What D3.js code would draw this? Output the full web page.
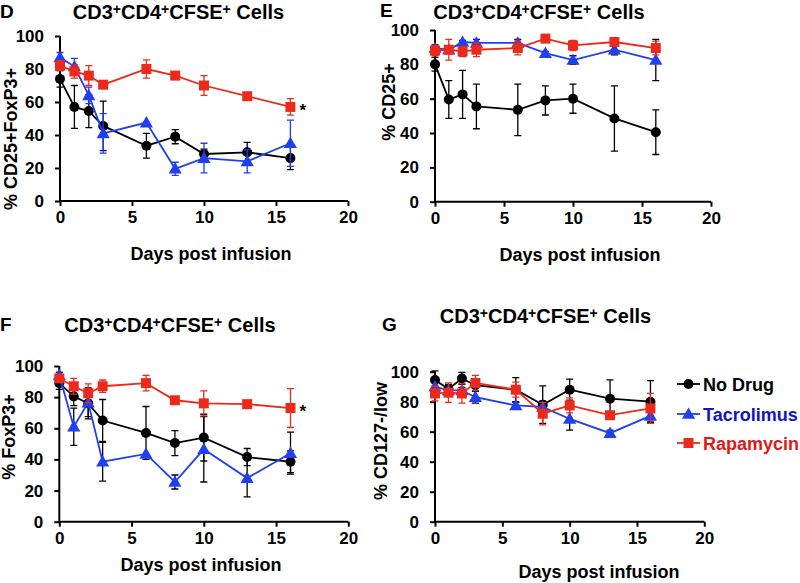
<!DOCTYPE html>
<html><head><meta charset="utf-8">
<script src="https://cdn.jsdelivr.net/npm/d3@7"></script>
<style>
html,body{margin:0;padding:0;background:#fff;}
svg{display:block;font-family:"Liberation Sans",Arial,Helvetica,sans-serif;font-weight:bold;}
</style></head>
<body><svg id="c" width="800" height="583"></svg>
<script>
// ---------- data ----------
const days = [0, 1, 2, 3, 6, 8, 10, 13, 16];
const xTicks = [0, 5, 10, 15, 20];
const yTicks = [0, 20, 40, 60, 80, 100];
const seriesNames = ["No Drug", "Tacrolimus", "Rapamycin"];

// Panel D: % CD25+FoxP3+
const dNoDrug    = [74, 57, 54.5, 45.5, 33.5, 39, 28.5, 29.5, 26];
const dNoDrugErr = [5, 13, 10, 15, 7.5, 4.3, 3, 6, 7];
const dTacro     = [87, 81.5, 64, 41, 47.5, 19.5, 26, 24, 35];
const dTacroErr  = [3, 5, 5, 12, 0, 4, 9, 7, 14];
const dRapa      = [82, 78.5, 76, 70.5, 80, 76, 70, 63.5, 57];
const dRapaErr   = [3, 4, 6, 2, 5.5, 2, 6, 1.5, 5];

// Panel E: % CD25+
const eNoDrug    = [80, 59.5, 62.5, 55.5, 53.5, 59, 60, 48.5, 40.5];
const eNoDrugErr = [4, 11, 14, 13, 15, 8.5, 8.5, 19, 13];
const eTacro     = [89.5, 88.5, 93, 92.5, 92.5, 86.5, 82.5, 88.5, 82.5];
const eTacroErr  = [2, 2, 1, 2, 2, 1, 2.5, 3, 12];
const eRapa      = [88, 88.5, 87.5, 88.5, 89.5, 95, 91, 93, 89.5];
const eRapaErr   = [3, 6, 3, 4, 4, 1, 3, 1, 4];

// Panel F: % FoxP3+
const fNoDrug    = [89, 80.5, 76, 65, 57, 50.5, 54, 41.5, 38.5];
const fNoDrugErr = [4, 6, 10, 13.5, 17, 8, 15, 5.5, 7];
const fTacro     = [94, 61, 76.5, 38.5, 43.5, 25.5, 46.5, 28, 44];
const fTacroErr  = [2, 12, 9, 12.5, 0, 4.5, 21, 12, 13.5];
const fRapa      = [92, 87, 82.5, 87, 89, 78, 76, 75.5, 73];
const fRapaErr   = [2, 5, 6, 4, 5, 1, 8, 1, 12.5];

// Panel G: % CD127-/low
const gNoDrug    = [94.5, 88.5, 95.5, 91, 88, 78, 88, 82, 80];
const gNoDrugErr = [6, 3, 4, 4, 8, 12.5, 7, 12.5, 14];
const gTacro     = [90, 87.5, 87.5, 83, 77.5, 76.5, 68.5, 59, 70.5];
const gTacroErr  = [3, 2, 2, 4, 2, 4, 7.5, 2, 4];
const gRapa      = [85.5, 86, 85.5, 92.5, 88, 72, 77.5, 71, 75.5];
const gRapaErr   = [5, 6.5, 6.5, 5, 5, 7.5, 5, 2, 10];

// ---------- styles ----------
const colors = ["#000000", "#1f3ff0", "#ec2a1c"];
const legendTextColors = ["#000000", "#1212c8", "#e01818"];

const panels = [
  {letter:"D", lx:0, ly:18, ylabel:"% CD25+FoxP3+", xr:[60,348], yr:[201,36],
   tx:178.5, ty:19, ylx:17, yly:139, xlx:211, xly:260,
   series:[[dNoDrug,dNoDrugErr],[dTacro,dTacroErr],[dRapa,dRapaErr]],
   errColors:["#000","#1f3ff0","#ec2a1c"], star:true},
  {letter:"E", lx:380, ly:17, ylabel:"% CD25+", xr:[435,711], yr:[201.7,30],
   tx:539, ty:19, ylx:395, yly:102, xlx:580, xly:261,
   series:[[eNoDrug,eNoDrugErr],[eTacro,eTacroErr],[eRapa,eRapaErr]],
   errColors:["#000","#000","#ec2a1c"], star:false},
  {letter:"F", lx:0, ly:331, ylabel:"% FoxP3+", xr:[59.3,348.3], yr:[521.7,366],
   tx:170, ty:332, ylx:15, yly:437, xlx:201, xly:571,
   series:[[fNoDrug,fNoDrugErr],[fTacro,fTacroErr],[fRapa,fRapaErr]],
   errColors:["#000","#000","#ec2a1c"], star:true},
  {letter:"G", lx:382, ly:331, ylabel:"% CD127-/low", xr:[435,704.3], yr:[521.7,371.7],
   tx:545.5, ty:323, ylx:387, yly:441, xlx:599, xly:578,
   series:[[gNoDrug,gNoDrugErr],[gTacro,gTacroErr],[gRapa,gRapaErr]],
   errColors:["#000","#000","#ec2a1c"], star:false}
];

const svg = d3.select("#c");

function drawMarker(g, type, x, y, color){
  if(type===0){
    g.append("circle").attr("cx",x).attr("cy",y).attr("r",5).attr("fill",color);
  } else if(type===1){
    g.append("path").attr("d", d3.symbol().type(d3.symbolTriangle).size(75)())
      .attr("transform",`translate(${x},${y+1})`).attr("fill",color);
  } else {
    g.append("path").attr("d", d3.symbol().type(d3.symbolSquare).size(100)())
      .attr("transform",`translate(${x},${y})`).attr("fill",color);
  }
}

function title(g, x, y){
  const t = g.append("text").attr("x",x).attr("y",y).attr("text-anchor","middle")
    .attr("font-size",20);
  const parts = [["CD3",false],["+",true],["CD4",false],["+",true],["CFSE",false],["+",true],[" Cells",false]];
  parts.forEach(([s,sup],i)=>{
    const ts = t.append("tspan").text(s);
    if(sup) ts.attr("font-size",14).attr("dy",-5);
    else if(i>0) ts.attr("dy",5);
  });
}

panels.forEach(p=>{
  const x = d3.scaleLinear().domain([0,20]).range(p.xr);
  const y = d3.scaleLinear().domain([0,100]).range(p.yr);
  const g = svg.append("g");

  // panel letter
  g.append("text").attr("x",p.lx).attr("y",p.ly).attr("font-size",19).text(p.letter);
  title(g, p.tx, p.ty);

  // axes
  const xa = g.append("g").attr("transform",`translate(0,${p.yr[0]})`)
    .call(d3.axisBottom(x).tickValues(xTicks).tickSize(5).tickPadding(5).tickFormat(d3.format("d")));
  const ya = g.append("g").attr("transform",`translate(${p.xr[0]},0)`)
    .call(d3.axisLeft(y).tickValues(yTicks).tickSize(5).tickPadding(11).tickFormat(d3.format("d")));
  [xa,ya].forEach(a=>{
    a.select(".domain").attr("stroke","#000").attr("stroke-width",2);
    a.selectAll(".tick line").attr("stroke","#000").attr("stroke-width",2);
    a.selectAll(".tick text").attr("fill","#000").attr("font-size",17)
      .attr("font-family",null).attr("font-weight","bold");
  });
  xa.select(".domain").attr("d",`M${p.xr[0]},0H${p.xr[1]}`);
  ya.select(".domain").attr("d",`M0,${p.yr[0]}V${p.yr[1]}`);

  // axis labels
  g.append("text").attr("transform",`translate(${p.ylx},${p.yly}) rotate(-90)`)
    .attr("text-anchor","middle").attr("font-size",18).text(p.ylabel);
  g.append("text").attr("x",p.xlx).attr("y",p.xly).attr("text-anchor","middle")
    .attr("font-size",18).text("Days post infusion");

  const line = d3.line().x((d,i)=>x(days[i])).y(d=>y(d));

  p.series.forEach(([vals,errs],si)=>{
    const sg = g.append("g");
    const ec = p.errColors[si];
    vals.forEach((v,i)=>{
      const e = errs[i];
      if(e<=0) return;
      const cx = x(days[i]);
      sg.append("path")
        .attr("d",`M${cx},${y(v-e)}V${y(v+e)}M${cx-3.5},${y(v-e)}H${cx+3.5}M${cx-3.5},${y(v+e)}H${cx+3.5}`)
        .attr("stroke",ec).attr("stroke-width",1.3).attr("fill","none");
    });
    sg.append("path").datum(vals).attr("d",line).attr("fill","none")
      .attr("stroke",colors[si]).attr("stroke-width",1.8);
    vals.forEach((v,i)=>drawMarker(sg, si, x(days[i]), y(v), colors[si]));
  });

  if(p.star){
    const last = p.series[2][0][days.length-1];
    g.append("text").attr("x",x(days[days.length-1])+9).attr("y",y(last)+9)
      .attr("font-size",17).text("*");
  }
});

// legend
const lg = svg.append("g");
const legendY = [384, 414, 443];
seriesNames.forEach((n,i)=>{
  lg.append("line").attr("x1",677).attr("x2",700).attr("y1",legendY[i]).attr("y2",legendY[i])
    .attr("stroke",colors[i]).attr("stroke-width",1.8);
  drawMarker(lg, i, 688.5, legendY[i], colors[i]);
  lg.append("text").attr("x",703).attr("y",legendY[i]+6.5).attr("font-size",18)
    .attr("fill",legendTextColors[i]).text(n);
});
</script></body></html>
